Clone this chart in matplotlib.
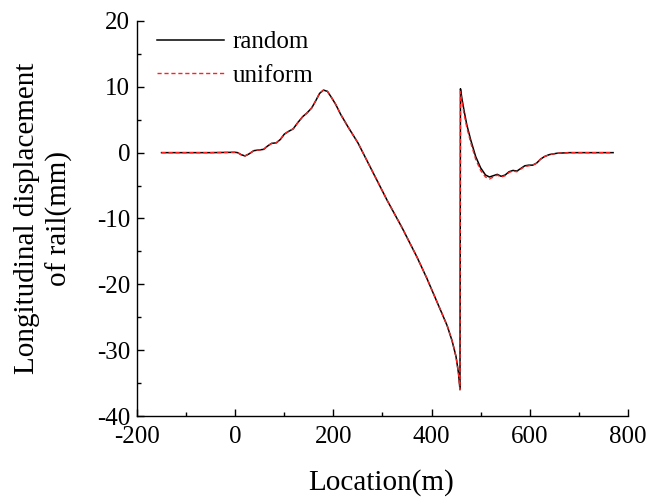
import matplotlib
matplotlib.use("Agg")
import matplotlib.pyplot as plt
from matplotlib.ticker import MultipleLocator

plt.rcParams['font.family'] = ['Liberation Serif', 'DejaVu Serif']
plt.rcParams['axes.unicode_minus'] = False

location = [-150, -100, -50, 0, 5, 12, 20, 28, 38, 48, 58, 66, 74, 84, 92, 100, 108, 118,
            128, 138, 146, 156, 165, 172, 180, 188, 196, 205, 215, 230, 250, 280, 310, 340,
            370, 390, 405, 420, 432, 442, 450, 455, 458, 459, 462, 466, 472, 480, 490, 500,
            510, 518, 526, 534, 542, 550, 558, 566, 574, 582, 590, 598, 606, 614, 622, 630,
            640, 655, 680, 720, 770]

random_disp = [0, 0, 0, 0.05, 0.0, -0.3, -0.5, -0.2, 0.3, 0.4, 0.5, 1.0, 1.4, 1.5, 2.0, 2.8,
               3.2, 3.6, 4.6, 5.5, 6.0, 6.8, 8.0, 9.0, 9.5, 9.3, 8.4, 7.3, 5.8, 3.9, 1.5, -2.9,
               -7.3, -11.4, -15.8, -19.0, -21.6, -24.2, -26.3, -28.6, -31.0, -33.5, -36.0, 9.7,
               8.2, 6.5, 4.2, 1.9, -0.6, -2.3, -3.4, -3.7, -3.5, -3.3, -3.6, -3.4, -2.9, -2.7,
               -2.8, -2.4, -2.0, -1.9, -1.9, -1.6, -1.0, -0.6, -0.3, -0.1, 0, 0, 0]

uniform_disp = [0, 0, 0, 0.05, 0.0, -0.3, -0.5, -0.2, 0.3, 0.4, 0.5, 1.0, 1.4, 1.5, 2.0, 2.8,
                3.2, 3.6, 4.6, 5.5, 6.0, 6.8, 8.0, 9.0, 9.5, 9.3, 8.4, 7.3, 5.8, 3.9, 1.5, -2.9,
                -7.3, -11.4, -15.8, -19.0, -21.6, -24.2, -26.3, -28.6, -31.0, -33.5, -36.0, 9.3,
                7.8, 6.0, 3.8, 1.5, -1.0, -2.7, -3.7, -4.0, -3.7, -3.4, -3.7, -3.5, -3.0, -2.8,
                -2.9, -2.5, -2.1, -2.0, -1.9, -1.6, -1.0, -0.6, -0.3, -0.1, 0, 0, 0]

fig = plt.figure(figsize=(6.54, 4.99), dpi=100)
ax = fig.add_axes([0.2095, 0.1663, 0.7505, 0.7917])

ax.plot(location, random_disp, color='black', lw=1.1, label='random')
ax.plot(location, uniform_disp, color='#ff2020', lw=1.0, ls=(0, (3, 2)), label='uniform')

ax.set_xlim(-200, 800)
ax.set_ylim(-40, 20)
ax.xaxis.set_major_locator(MultipleLocator(200))
ax.xaxis.set_minor_locator(MultipleLocator(100))
ax.yaxis.set_major_locator(MultipleLocator(10))
ax.yaxis.set_minor_locator(MultipleLocator(5))
ax.tick_params(which='major', direction='in', length=5, width=1, labelsize=18)
ax.tick_params(axis='x', which='major', pad=7.5)
ax.tick_params(axis='y', which='major', pad=5)
ax.tick_params(which='minor', direction='in', length=3, width=1)
ax.spines['top'].set_visible(False)
ax.spines['right'].set_visible(False)
for s in ['left', 'bottom']:
    ax.spines[s].set_linewidth(1.0)

ax.set_xlabel('Location(m)', fontsize=21)
ax.xaxis.set_label_coords(0.498, -0.135)
ax.set_ylabel('Longitudinal displacement\nof rail(mm)', fontsize=21, linespacing=1.3)
ax.yaxis.set_label_coords(-0.13, 0.5)

ax.legend(loc='upper left', frameon=False, fontsize=18, handlelength=2.7,
          handletextpad=0.35, labelspacing=0.45, borderpad=0, borderaxespad=0,
          bbox_to_anchor=(0.04, 0.975))

fig.savefig('out.png', dpi=100)
